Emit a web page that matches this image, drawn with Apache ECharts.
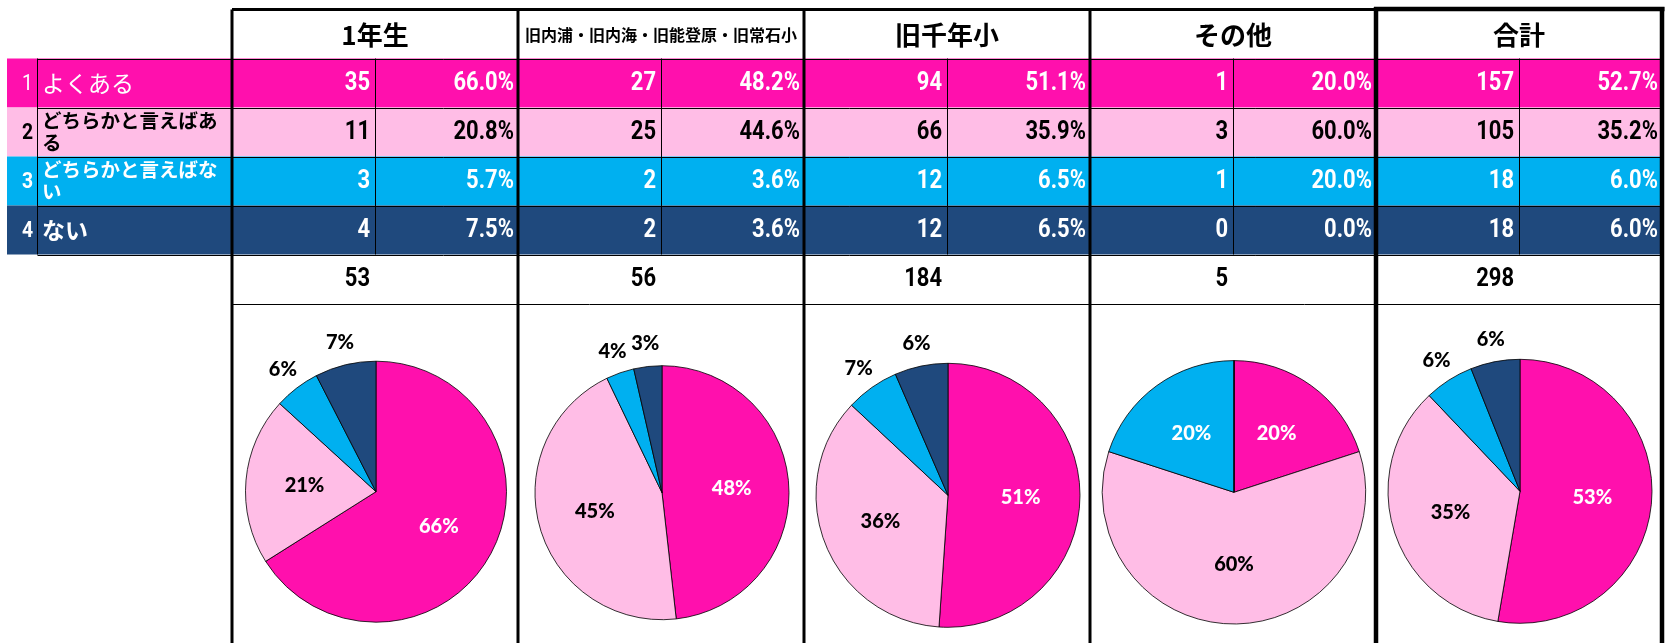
<!DOCTYPE html>
<html>
<head>
<meta charset="utf-8">
<script src="https://cdn.jsdelivr.net/npm/echarts@6/dist/echarts.min.js"></script>
<style>
  html, body { margin: 0; padding: 0; background: #fff; }
  #chart { width: 1680px; height: 643px; }
</style>
</head>
<body>
<div id="chart"></div>
<script>
// --- data ---
const groupNames = ['1年生', '旧内浦・旧内海・旧能登原・旧常石小', '旧千年小', 'その他', '合計'];
const answerNos = ['1', '2', '3', '4'];
const answerLabels = ['よくある', 'どちらかと言えばある', 'どちらかと言えばない', 'ない'];
const countsGrade1 = [35, 11, 3, 4];
const countsOld4 = [27, 25, 2, 2];
const countsChitose = [94, 66, 12, 12];
const countsOther = [1, 3, 1, 0];
const countsTotal = [157, 105, 18, 18];
const groupCounts = [countsGrade1, countsOld4, countsChitose, countsOther, countsTotal];

// --- styles / layout ---
const rowColors = ['#FF10AD', '#FFBDE6', '#00B0F0', '#1F497D'];
const rowTextColors = ['#fff', '#000', '#fff', '#fff'];
const cjk = '"Noto Sans CJK JP", sans-serif';
const numFont = 'Roboto, "Liberation Sans", sans-serif';

const tableLeft = 232;
const colW = 286;
const headerTop = 9.5;
const headerBottom = 58.5;
const rowH = 49;
const pieCenterY = [491.7, 492.7, 495.3, 492.3, 491.3];
const pieRadius = [130.5, 127, 132, 131.7, 132];

const sum = arr => arr.reduce((a, b) => a + b, 0);
const colLeft = j => tableLeft + j * colW;
const rowTop = i => headerBottom + i * rowH;
const totalsTop = rowTop(4);
const totalsBottom = totalsTop + rowH;

const elements = [];

function hline(y, x1, x2, w) {
  elements.push({ type: 'line', shape: { x1, y1: y, x2, y2: y }, style: { stroke: '#000', lineWidth: w || 1 }, z: 5 });
}
function vline(x, y1, y2, w) {
  elements.push({ type: 'line', shape: { x1: x, y1, x2: x, y2 }, style: { stroke: '#000', lineWidth: w || 1 }, z: 5 });
}
function numText(text, x, y, color) {
  elements.push({
    type: 'text', x, y, scaleX: 0.88, z: 6,
    style: { text, x: 0, y: 0, align: 'right', verticalAlign: 'middle', fill: color, font: 'bold 25px ' + numFont }
  });
}

// row backgrounds, numbers and answer labels
answerLabels.forEach((label, i) => {
  elements.push({ type: 'rect', shape: { x: 7, y: rowTop(i), width: colLeft(5) - 7, height: rowH }, style: { fill: rowColors[i] }, z: 1 });
  const cy = rowTop(i) + rowH / 2;
  elements.push({
    type: 'text', x: 33, y: cy + 1, scaleX: 0.88, z: 6,
    style: { text: answerNos[i], x: 0, y: 0, align: 'right', verticalAlign: 'middle', fill: rowTextColors[i],
      font: (i === 0 ? 'normal ' : 'bold ') + '22px ' + numFont }
  });
  const longLabel = label.length > 5;
  elements.push({
    type: 'text', x: 42, y: cy, z: 6,
    style: {
      text: label, x: 0, y: 0, align: 'left', verticalAlign: 'middle', fill: rowTextColors[i],
      font: (i === 0 ? 'normal 23px ' : (longLabel ? 'bold 19.5px ' : 'bold 23px ')) + cjk,
      width: 184, overflow: 'break', lineHeight: longLabel ? 22 : 28
    }
  });
});

// header and table cells
groupNames.forEach((name, j) => {
  const x0 = colLeft(j);
  const mid = x0 + colW / 2;
  const small = name.length > 6;
  elements.push({
    type: 'text', x: mid, y: (headerTop + headerBottom) / 2 + 1, z: 6,
    style: { text: name, x: 0, y: 0, align: 'center', verticalAlign: 'middle', fill: '#000',
      font: small ? 'bold 16px ' + cjk : 'bold 26px ' + cjk }
  });
  const counts = groupCounts[j];
  const total = sum(counts);
  counts.forEach((v, i) => {
    const cy = rowTop(i) + rowH / 2 + 1;
    numText(String(v), mid - 5, cy, rowTextColors[i]);
    numText((v / total * 100).toFixed(1) + '%', x0 + colW - 4, cy, rowTextColors[i]);
  });
  numText(String(total), mid - 5, (totalsTop + totalsBottom) / 2 + 1, '#000');
  vline(Math.round(mid) + 0.5, headerBottom, totalsTop, 1);
});

// thin grid lines
for (let i = 0; i <= 4; i++) hline(Math.round(rowTop(i)) + 0.5, 37.5, colLeft(5), 1);
hline(Math.round(totalsBottom) + 0.5, tableLeft, colLeft(5), 1);
vline(37.5, headerBottom, totalsTop, 1);

// thick frame lines
hline(headerTop, tableLeft, colLeft(4), 3);
hline(headerTop - 0.5, colLeft(4) - 2, colLeft(5) + 2.5, 4.5);
for (let j = 0; j <= 3; j++) vline(colLeft(j), headerTop, 643, 3);
vline(colLeft(4), headerTop - 2.5, 643, 4.5);
vline(colLeft(5), headerTop - 2.5, 643, 4.5);

// --- pies ---
// small slices get their label outside, large ones inside
function makeLabelLayout(values, cx, cy, r) {
  const total = sum(values);
  return function (params) {
    const idx = params.dataIndex;
    const before = sum(values.slice(0, idx));
    const ang = (before + values[idx] / 2) / total * Math.PI * 2;
    const share = values[idx] / total;
    const dist = share < 0.1 ? r + 23 : r * 0.55;
    return { x: cx + dist * Math.sin(ang), y: cy - dist * Math.cos(ang), align: 'center', verticalAlign: 'middle' };
  };
}

const pieSeries = groupCounts.map((counts, j) => {
  const cx = colLeft(j) + colW / 2 + 1;
  const cy = pieCenterY[j];
  const r = pieRadius[j];
  const total = sum(counts);
  return {
    type: 'pie',
    center: [cx, cy],
    radius: r,
    startAngle: 90,
    clockwise: true,
    percentPrecision: 0,
    silent: true,
    itemStyle: { borderColor: '#000', borderWidth: 0.8 },
    labelLine: { show: false },
    label: {
      position: 'inside',
      formatter: '{d}%',
      fontFamily: 'Lato, "Open Sans", sans-serif',
      fontWeight: 900,
      fontSize: 20
    },
    labelLayout: makeLabelLayout(counts, cx, cy, r),
    data: counts.map((v, i) => ({
      value: v,
      name: answerLabels[i],
      itemStyle: { color: rowColors[i] },
      label: { show: v > 0, color: (v / total < 0.1) ? '#000' : rowTextColors[i] }
    }))
  };
});

const chart = echarts.init(document.getElementById('chart'));
chart.setOption({
  animation: false,
  backgroundColor: '#fff',
  graphic: { elements },
  series: pieSeries
});
</script>
</body>
</html>
